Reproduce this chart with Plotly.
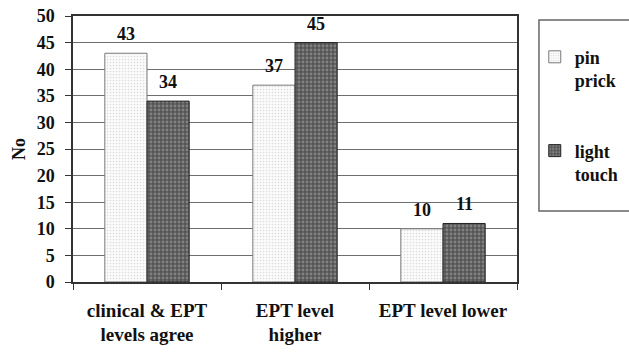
import plotly.graph_objects as go

categories = ["clinical & EPT<br>levels agree", "EPT level<br>higher", "EPT level lower"]
series_names = ["pin<br>prick", "light<br>touch"]
pin_prick = [43, 37, 10]
light_touch = [34, 45, 11]
y_ticks = [0, 5, 10, 15, 20, 25, 30, 35, 40, 45, 50]

FONT = "Liberation Serif"
TXT = "#111111"

fig = go.Figure()
fig.add_trace(go.Bar(
    name=series_names[0], x=categories, y=pin_prick, legendgroup="a",
    marker=dict(color="#f7f7f7",
                line=dict(color="#7a7a7a", width=1),
                pattern=dict(shape=".", bgcolor="#fbfbfb", fgcolor="#bdbdbd", size=3, solidity=0.25)),
))
fig.add_trace(go.Bar(
    name=series_names[1], x=categories, y=light_touch, legendgroup="b",
    marker=dict(color="#6e6e6e",
                line=dict(color="#222222", width=1),
                pattern=dict(shape=".", bgcolor="#555555", fgcolor="#b0b0b0", size=4, solidity=0.4)),
))

annotations = []
for vals, shift in [(pin_prick, -21), (light_touch, 21)]:
    for c, v in zip(categories, vals):
        annotations.append(dict(
            x=c, y=v, xref="x", yref="y", text=str(v), showarrow=False,
            xshift=shift, yshift=7, yanchor="bottom",
            font=dict(family=FONT, size=18, color=TXT, weight="bold"),
        ))

fig.update_layout(
    width=629, height=353,
    margin=dict(l=73, r=112, t=16, b=71, autoexpand=False),
    paper_bgcolor="white", plot_bgcolor="white",
    barmode="group", bargap=0.43, bargroupgap=0,
    font=dict(family=FONT, size=18, color=TXT, weight="bold"),
    annotations=annotations,
    showlegend=True,
    legend=dict(
        x=1.04, y=0.915, xanchor="left", yanchor="top",
        font=dict(family=FONT, size=18, color=TXT, weight="bold"),
        traceorder="grouped", tracegroupgap=44, valign="top",
        bgcolor="rgba(0,0,0,0)",
    ),
    shapes=[dict(type="rect", xref="paper", yref="paper",
                 x0=1.0495, x1=1.35, y0=0.267, y1=0.985,
                 line=dict(color="#666666", width=1.5), fillcolor="rgba(0,0,0,0)", layer="below")],
)

fig.update_xaxes(
    type="category", showline=True, linecolor="#333333", linewidth=1.5, mirror=True,
    ticks="outside", tickson="boundaries", ticklen=6, tickcolor="#333333",
    tickfont=dict(family=FONT, size=19, color=TXT, weight="bold"),
    showgrid=False, ticklabelstandoff=10, automargin=False,
)
fig.update_yaxes(
    range=[0, 50], tickvals=y_ticks, showline=True, linecolor="#333333", linewidth=1.5,
    mirror=True, ticks="outside", ticklen=6, tickcolor="#333333",
    showgrid=True, gridcolor="#6e6e6e", gridwidth=1.2, zeroline=False,
    tickfont=dict(family=FONT, size=18, color=TXT, weight="bold"),
    title=dict(text="No", font=dict(family=FONT, size=18, color=TXT, weight="bold"), standoff=6),
    ticklabelstandoff=7, automargin=False, ticklabeloverflow="allow",
)

fig.write_html("out.html",
               config={"displayModeBar": False},
               post_script="document.body.style.margin='0';document.body.style.overflow='hidden';")
